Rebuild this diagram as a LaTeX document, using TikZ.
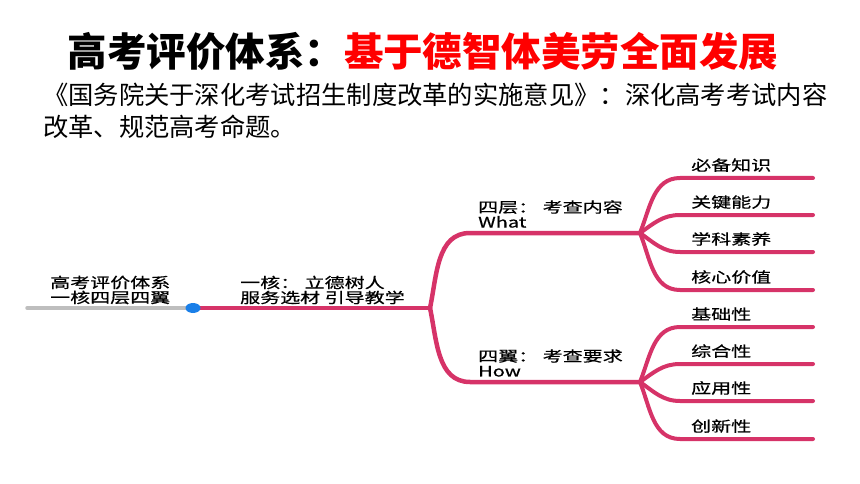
\documentclass[tikz,border=0pt]{standalone}
\usepackage{fontspec}
\newfontfamily\cjk{Noto Sans CJK SC}
\newfontfamily\mapfont[FakeStretch=1.38, FakeBold=0.6]{Noto Sans CJK SC}
\definecolor{mappink}{RGB}{214,51,104}
\definecolor{mapblue}{RGB}{26,127,232}
\definecolor{mapgray}{RGB}{190,190,190}
\begin{document}
\begin{tikzpicture}[x=1pt, y=-1pt,
    every node/.style={inner sep=0pt},
    maptext/.style={font=\mapfont\fontsize{14.5}{15}\selectfont, align=left},
    branch/.style={draw=mappink, line width=4.5pt, line cap=round},
    leaf/.style={draw=mappink, line width=4pt, line cap=round}]
  \useasboundingbox (0,0) rectangle (860,484);
  % Title and source
  \node (title) at (423,51) {\cjk\bfseries\fontsize{39.5}{40}\selectfont
    高考评价体系：\textcolor{red}{基于德智体美劳全面发展}};
  \node[anchor=west] (src1) at (43,95) {\cjk\fontsize{25.3}{26}\selectfont
    《国务院关于深化考试招生制度改革的实施意见》：深化高考考试内容};
  \node[anchor=west] (src2) at (43,127) {\cjk\fontsize{25.3}{26}\selectfont
    改革、规范高考命题。};
  % Root
  \coordinate (start) at (27,308);
  \coordinate (fork) at (430,308);
  \node[maptext, anchor=west] (root) at (50,290) {高考评价体系\\一核四层四翼};
  \node[maptext, anchor=west] (core) at (240,290) {一核： 立德树人\\服务选材 引导教学};
  % Layers and wings
  \coordinate (whatL) at (470,233);
  \coordinate (whatF) at (640,233);
  \coordinate (howL) at (470,382);
  \coordinate (howF) at (640,382);
  \node[maptext, anchor=west] (what) at (478,214) {四层： 考查内容\\What};
  \node[maptext, anchor=west] (how) at (478,363) {四翼： 考查要求\\How};
  % Connectors
  \draw[mapgray, line width=3.5pt, line cap=round] (start) -- (193,308) coordinate (dot);
  \draw[branch] (dot) -- (fork);
  \draw[branch] (fork) to[out=78, in=180] (whatL) -- (whatF);
  \draw[branch] (fork) to[out=-78, in=180] (howL) -- (howF);
  \fill[mapblue] (dot) ellipse (7.5pt and 5pt);
  % Leaves
  \foreach \y/\t/\a [count=\i] in {178/必备知识/68, 215/关键能力/35, 252/学科素养/-35, 290/核心价值/-68} {
    \coordinate (k\i) at (680,\y);
    \draw[leaf] (whatF) to[out=\a, in=180] (k\i) -- (813,\y);
    \node[maptext, anchor=south west] (kl\i) at (691,\y-6) {\t};
  }
  \foreach \y/\t/\a [count=\i] in {327/基础性/68, 364/综合性/35, 401/应用性/-35, 439/创新性/-68} {
    \coordinate (r\i) at (680,\y);
    \draw[leaf] (howF) to[out=\a, in=180] (r\i) -- (813,\y);
    \node[maptext, anchor=south west] (rl\i) at (691,\y-6) {\t};
  }
\end{tikzpicture}
\end{document}
